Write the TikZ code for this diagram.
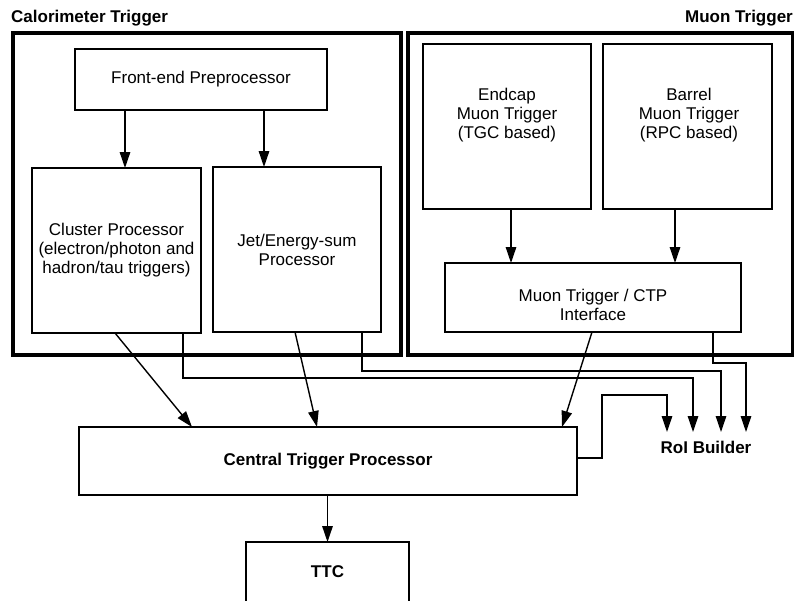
\documentclass[tikz,border=0pt]{standalone}
\usepackage{fontspec}
\setmainfont{Liberation Sans}
\usetikzlibrary{arrows.meta}
\begin{document}
\begin{tikzpicture}[x=1pt,y=-1pt,
  box/.style={draw, line width=1.6pt, outer sep=0pt, inner sep=0pt, align=center},
  frame/.style={draw, line width=3.8pt, outer sep=0pt, inner sep=0pt},
  txt/.style={align=center, inner sep=0pt},
  ttl/.style={inner sep=0pt, font=\bfseries},
  arr/.style={line width=1.4pt, -{Triangle[length=16pt,width=10.5pt]}},
  wire/.style={line width=1.4pt}
]
\fontsize{17}{19}\selectfont
\useasboundingbox (0,0) rectangle (794,600);
\fill[white] (0,0) rectangle (794,600);

% titles
\node[ttl, anchor=west] (calt) at (11,18) {Calorimeter Trigger};
\node[ttl, anchor=east] (muot) at (793,18) {Muon Trigger};

% outer frames
\node[frame, minimum width=388, minimum height=322] (calo) at (207,194) {};
\node[frame, minimum width=385, minimum height=322] (muon) at (600.5,194) {};

% calorimeter boxes
\node[box, minimum width=252, minimum height=61] (fep) at (201,79.5) {Front-end Preprocessor};
\node[box, minimum width=169, minimum height=165] (clu) at (116.5,250.5) {Cluster Processor\\(electron/photon and\\hadron/tau triggers)};
\node[box, minimum width=168, minimum height=165] (jet) at (297,249.5) {Jet/Energy-sum\\Processor};

% muon boxes
\node[box, minimum width=168, minimum height=165] (endcap) at (507,126.5) {};
\node[txt] (endcapt) at (507,115) {Endcap\\Muon Trigger\\(TGC based)};
\node[box, minimum width=169, minimum height=165] (barrel) at (687.5,126.5) {};
\node[txt] (barrelt) at (689,115.5) {Barrel\\Muon Trigger\\(RPC based)};
\node[box, minimum width=296, minimum height=69] (mif) at (593,297.5) {};
\node[txt] (mift) at (593,305) {Muon Trigger / CTP\\Interface};

% CTP and TTC
\node[box, minimum width=498, minimum height=68, font=\bfseries] (ctp) at (328,461) {Central Trigger Processor};
\node[box, minimum width=163, minimum height=61] (ttc) at (327.5,572.5) {};
\node[txt, font=\bfseries] (ttct) at (327.5,572) {TTC};

% RoI builder
\node[txt, font=\bfseries] (roi) at (706,447) {RoI Builder};
\coordinate (r1) at (667,432);
\coordinate (r2) at (693,432);
\coordinate (r3) at (721,432);
\coordinate (r4) at (746,432);

% arrows inside calorimeter
\draw[arr] ([xshift=50pt]fep.south west) -- ([xshift=50pt]fep.south west |- clu.north);
\draw[arr] ([xshift=189pt]fep.south west) -- ([xshift=189pt]fep.south west |- jet.north);

% arrows inside muon
\draw[arr] ([xshift=4pt]endcap.south) -- ([xshift=4pt]endcap.south |- mif.north);
\draw[arr] ([xshift=-12.5pt]barrel.south) -- ([xshift=-12.5pt]barrel.south |- mif.north);

% to CTP
\draw[arr] ([xshift=-1.5pt]clu.south) -- ([xshift=113pt]ctp.north west);
\draw[arr] ([xshift=-2pt]jet.south) -- ([xshift=238pt]ctp.north west);
\draw[arr] ([xshift=-1pt]mif.south) -- ([xshift=-15pt]ctp.north east);

% to RoI builder
\draw[arr] ([xshift=-18pt]clu.south east) -- ++(0,45) -| (r2);
\draw[arr] ([xshift=-19pt]jet.south east) -- ++(0,39) -| (r3);
\draw[arr] ([xshift=-28pt]mif.south east) -- ++(0,31) -| (r4);
\draw[arr] ([yshift=3pt]ctp.east) -- ++(25,0) -- ++(0,-63) -| (r1);

% CTP to TTC
\draw[arr] (ctp.south -| ttc.north) -- (ttc.north);
\end{tikzpicture}
\end{document}
